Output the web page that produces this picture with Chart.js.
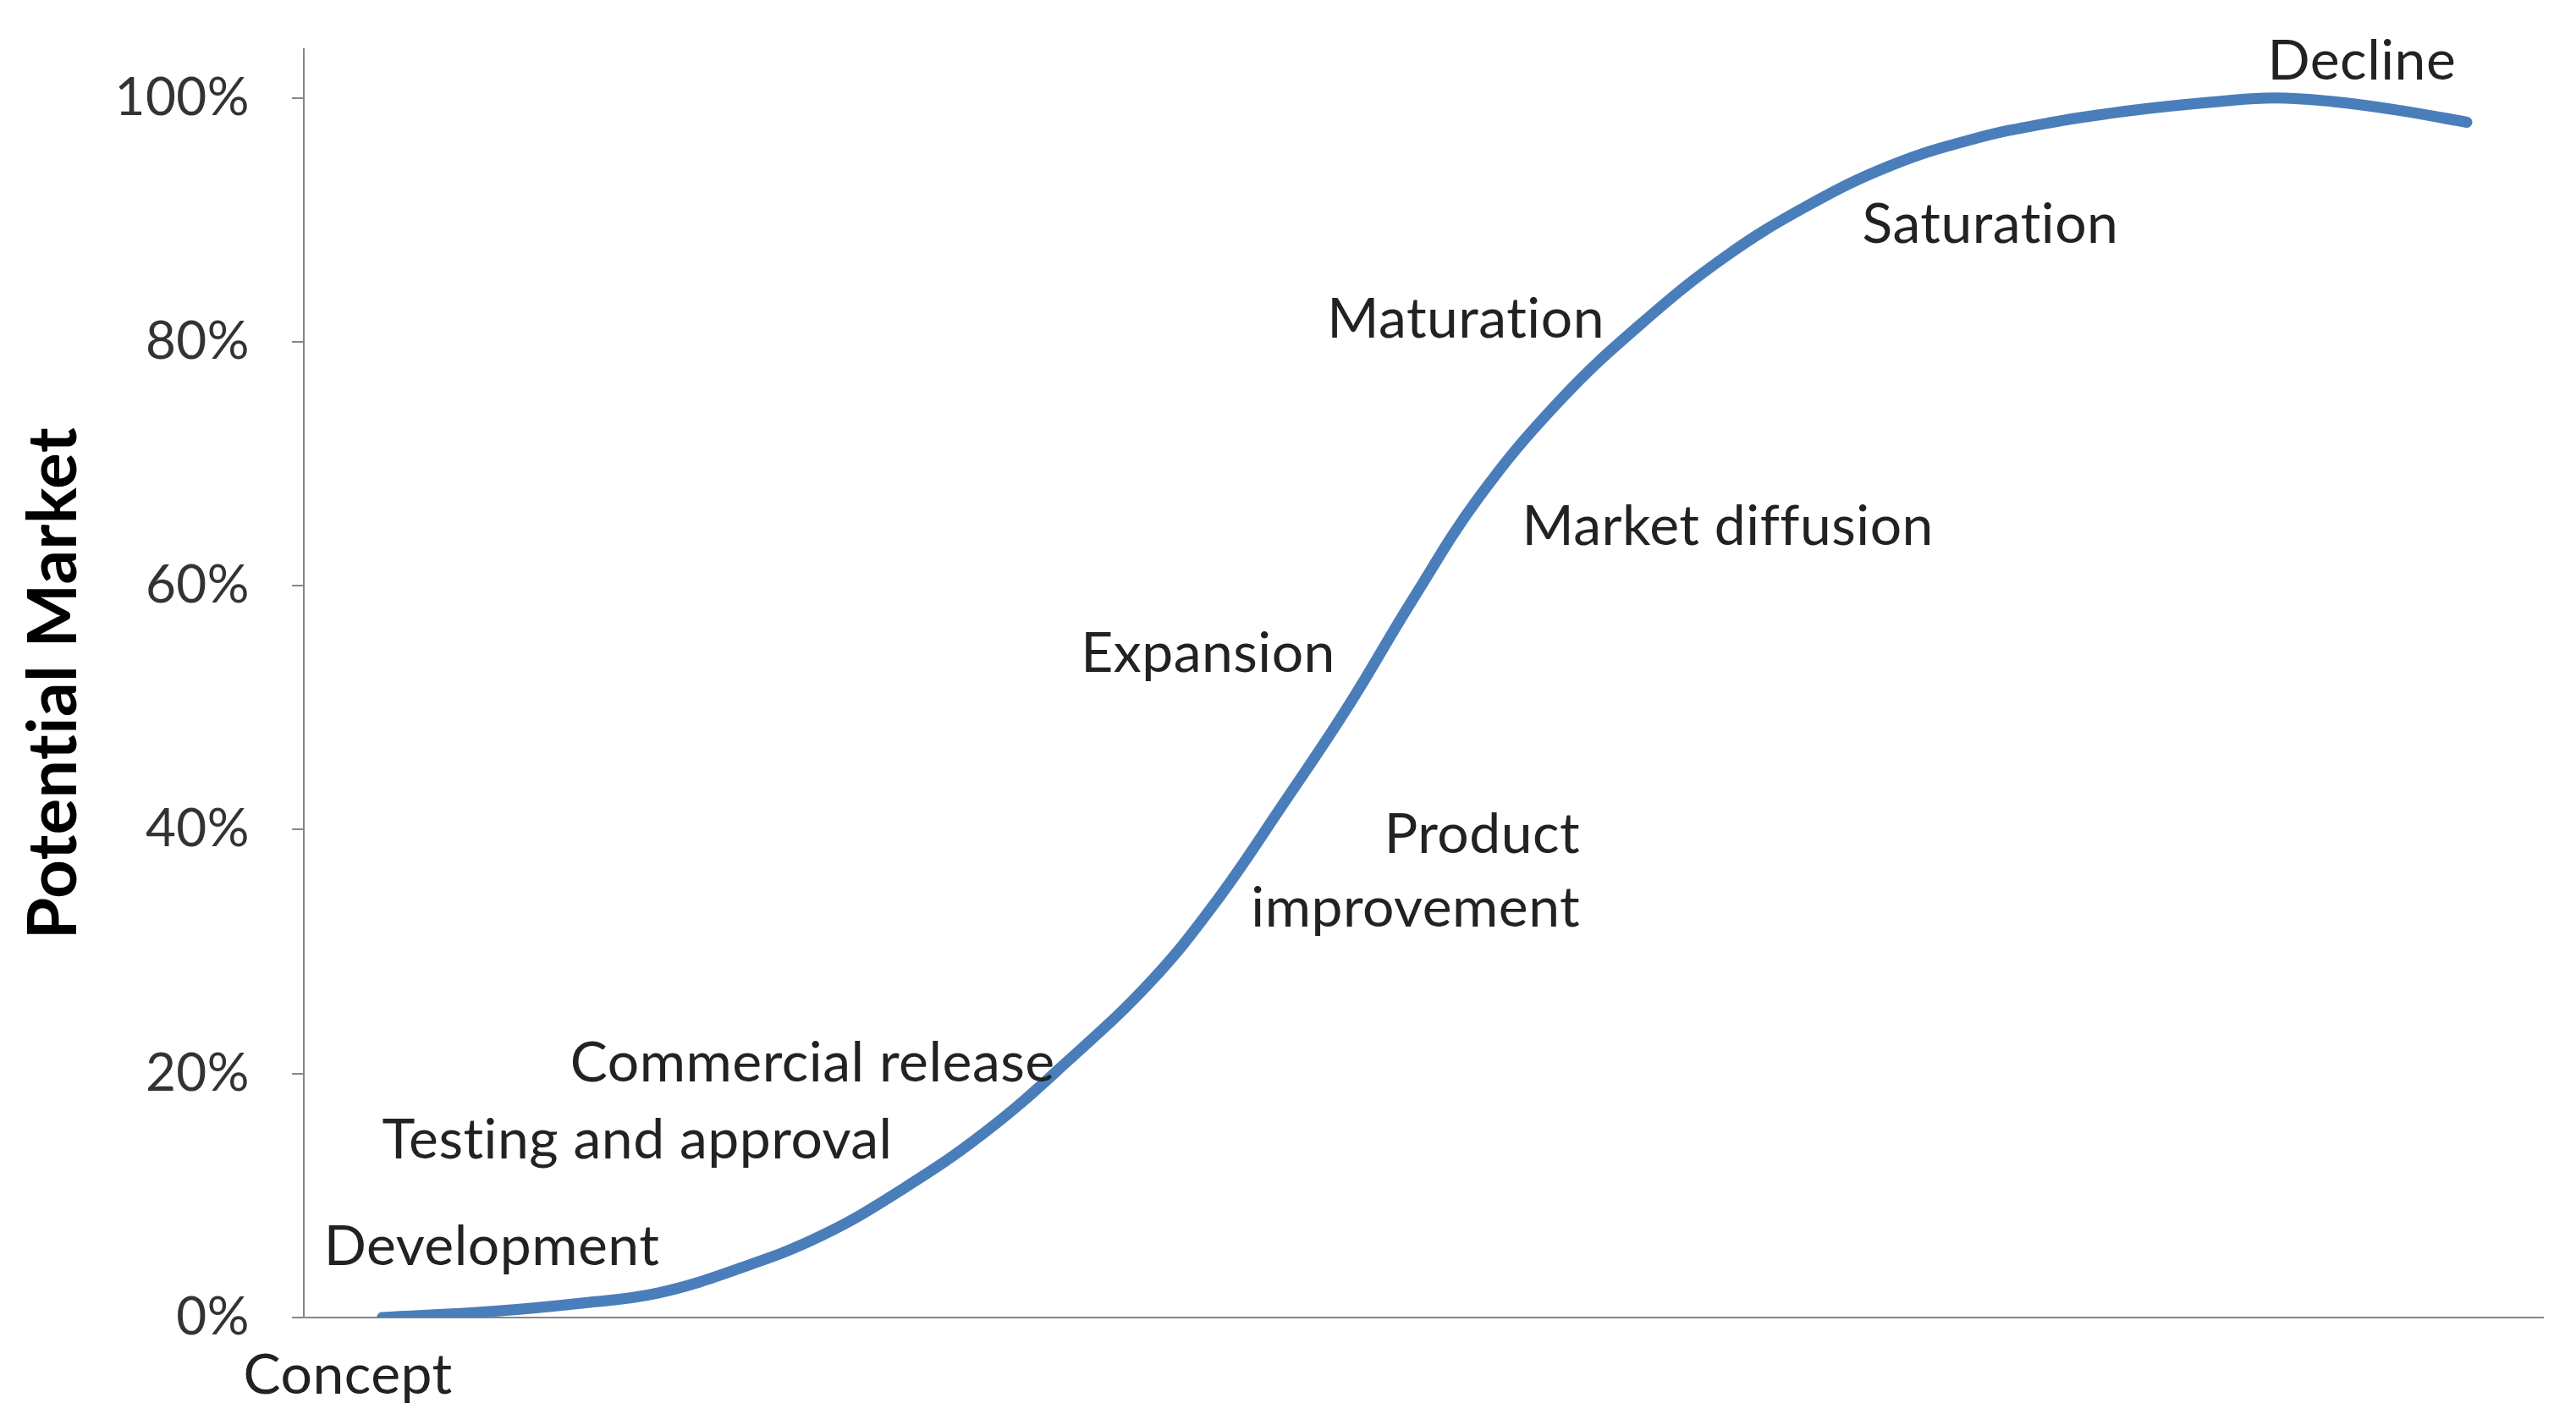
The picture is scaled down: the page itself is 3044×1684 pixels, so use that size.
<!DOCTYPE html>
<html>
<head>
<meta charset="utf-8">
<script src="https://cdn.jsdelivr.net/npm/chart.js@4.4.1/dist/chart.umd.min.js"></script>
<style>
  html, body { margin: 0; padding: 0; background: #fff; }
  #wrap { width: 3044px; height: 1684px; position: relative; }
</style>
</head>
<body>
<div id="wrap"><canvas id="myChart"></canvas></div>
<script>
// curve: time (arbitrary units) vs share of potential market (%)
var timeValues = [3.5, 8.4, 12.5, 15.8, 19.4, 23.1, 26.8, 30.5, 34.1, 37.8, 40.7, 43.7, 46.6, 49.5, 52.5, 56.1, 59.8, 63.5, 67.1, 70.8, 74.5, 78.1, 81.8, 85.5, 88.0, 90.6, 93.5, 96.6];
var marketValues = [0, 0.5, 1.2, 2, 4, 6.7, 10.6, 15.3, 21, 27.5, 34, 42, 50, 58.8, 67.3, 75.2, 81.6, 87, 91.1, 94.4, 96.6, 98, 99, 99.7, 100, 99.7, 99, 98];

var yTicks = [0, 20, 40, 60, 80, 100];

// stage labels written along the curve
var stageNames = ["Decline", "Saturation", "Maturation", "Market diffusion", "Expansion", "Product", "improvement", "Commercial release", "Testing and approval", "Development", "Concept"];
var stageX = [87.7, 69.6, 45.7, 54.4, 34.7, 57.0, 57.0, 11.9, 3.5, 0.9, -2.7];
var stageY = [103.0, 89.6, 81.8, 64.8, 54.4, 39.6, 33.5, 20.8, 14.5, 5.8, -4.8];
var stageAlign = ["left", "left", "left", "left", "left", "right", "right", "left", "left", "left", "left"];

var fontName = "Lato, 'Open Sans', sans-serif";

// a little letter spacing keeps Lato from joining "ti"
var noLigatures = {
    id: 'noLigatures',
    beforeDraw: function(chart) { chart.ctx.letterSpacing = '0.5px'; }
};

var stageLabels = {
    id: 'stageLabels',
    afterDraw: function(chart) {
        var ctx = chart.ctx;
        var xs = chart.scales.x, ys = chart.scales.y;
        ctx.save();
        ctx.font = '66px ' + fontName;
        ctx.letterSpacing = '0.5px';
        ctx.fillStyle = '#222';
        ctx.textBaseline = 'middle';
        for (var i = 0; i < stageNames.length; i++) {
            ctx.textAlign = stageAlign[i];
            ctx.fillText(stageNames[i], xs.getPixelForValue(stageX[i]), ys.getPixelForValue(stageY[i]));
        }
        ctx.restore();
    }
};

var points = [];
for (var i = 0; i < timeValues.length; i++) {
    points.push({x: timeValues[i], y: marketValues[i]});
}

var ctx = document.getElementById('myChart').getContext('2d');
var chart = new Chart(ctx, {
    type: 'line',
    data: {
        datasets: [{
            label: "Potential Market",
            data: points,
            borderColor: 'rgb(74,126,187)',
            borderWidth: 13,
            borderCapStyle: 'round',
            borderJoinStyle: 'round',
            pointRadius: 0,
            tension: 0.4,
            fill: false
        }]
    },
    options: {
        responsive: true,
        maintainAspectRatio: false,
        animation: false,
        layout: {
            padding: { left: 0, top: 58, right: 39, bottom: 127 }
        },
        plugins: {
            legend: { display: false },
            tooltip: { enabled: false }
        },
        scales: {
            x: {
                type: 'linear',
                min: 0,
                max: 100,
                border: { color: '#868686', width: 2 },
                grid: { display: false, drawTicks: false },
                ticks: { display: false },
                afterFit: function(scale) { scale.height = 0; }
            },
            y: {
                min: 0,
                max: 104,
                border: { color: '#868686', width: 2 },
                grid: { drawOnChartArea: false, drawTicks: true, tickLength: 14, color: '#868686', lineWidth: 2 },
                afterBuildTicks: function(scale) {
                    scale.ticks = yTicks.map(function(v) { return {value: v}; });
                },
                ticks: {
                    padding: 50,
                    color: '#333',
                    font: { family: fontName, size: 62 },
                    callback: function(v) { return v + '%'; }
                },
                title: {
                    display: true,
                    text: 'Potential Market',
                    color: '#000',
                    padding: { top: 16, bottom: 0 },
                    font: { family: fontName, size: 80, weight: 'bold' }
                },
                afterFit: function(scale) {
                    scale.width = 359;
                    scale.paddingTop = 0;
                    scale.paddingBottom = 0;
                }
            }
        }
    },
    plugins: [noLigatures, stageLabels]
});
</script>
</body>
</html>
